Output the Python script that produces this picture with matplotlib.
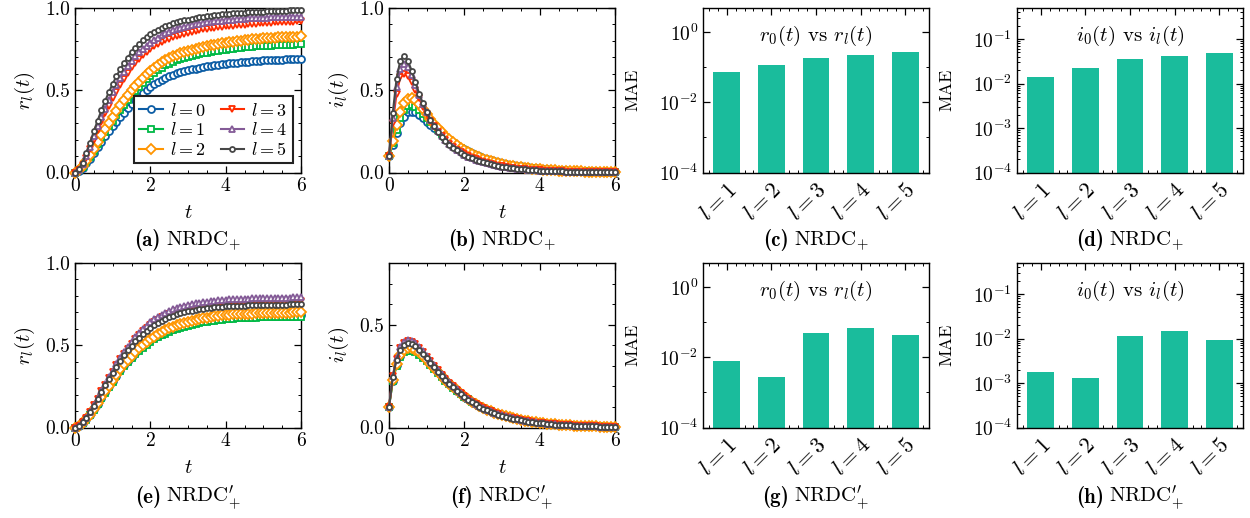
import numpy as np
import matplotlib
matplotlib.use('Agg')
import matplotlib.pyplot as plt
from matplotlib.ticker import MultipleLocator, FixedLocator, LogLocator, NullFormatter

plt.rcParams.update({
    'font.family': 'serif',
    'font.serif': ['cmr10'],
    'mathtext.fontset': 'cm',
    'axes.formatter.use_mathtext': True,
    'axes.unicode_minus': False,
    'font.size': 14,
})

# ---------------- data ----------------
t = np.linspace(0, 6, 61)
line_labels = ['$l=0$', '$l=1$', '$l=2$', '$l=3$', '$l=4$', '$l=5$']
colors = ['#0C5DA5', '#00B945', '#FF9500', '#FF2C00', '#845B97', '#474747']
markers = ['o', 's', 'D', 'v', '^', 'o']

# (a) r_l(t), NRDC+
ra0 = [0, 0.012, 0.030, 0.055, 0.085, 0.118, 0.152, 0.186, 0.219, 0.250, 0.280,
       0.309, 0.337, 0.364, 0.390, 0.415, 0.439, 0.461, 0.482, 0.502, 0.520,
       0.536, 0.551, 0.564, 0.576, 0.586, 0.595, 0.603, 0.610, 0.616, 0.621,
       0.627, 0.632, 0.636, 0.641, 0.645, 0.649, 0.652, 0.655, 0.658, 0.661,
       0.664, 0.666, 0.668, 0.671, 0.673, 0.674, 0.676, 0.678, 0.679, 0.681,
       0.682, 0.683, 0.684, 0.685, 0.686, 0.687, 0.688, 0.688, 0.689, 0.690]
ra1 = [0, 0.014, 0.034, 0.062, 0.096, 0.133, 0.172, 0.210, 0.247, 0.283, 0.316,
       0.349, 0.381, 0.411, 0.441, 0.469, 0.496, 0.521, 0.545, 0.567, 0.588,
       0.606, 0.623, 0.637, 0.651, 0.662, 0.672, 0.681, 0.689, 0.696, 0.702,
       0.709, 0.714, 0.719, 0.724, 0.729, 0.733, 0.737, 0.740, 0.744, 0.747,
       0.750, 0.753, 0.755, 0.758, 0.760, 0.762, 0.764, 0.766, 0.767, 0.770,
       0.771, 0.772, 0.773, 0.774, 0.775, 0.776, 0.777, 0.777, 0.779, 0.780]
ra2 = [0, 0.015, 0.038, 0.068, 0.104, 0.143, 0.184, 0.225, 0.265, 0.303, 0.340,
       0.375, 0.408, 0.440, 0.470, 0.499, 0.526, 0.552, 0.576, 0.598, 0.618,
       0.637, 0.654, 0.669, 0.683, 0.695, 0.706, 0.716, 0.725, 0.733, 0.740,
       0.747, 0.753, 0.759, 0.764, 0.769, 0.774, 0.778, 0.782, 0.786, 0.790,
       0.793, 0.796, 0.799, 0.802, 0.805, 0.807, 0.809, 0.811, 0.813, 0.815,
       0.817, 0.818, 0.820, 0.821, 0.822, 0.823, 0.824, 0.825, 0.826, 0.827]
ra3 = [0, 0.015, 0.045, 0.090, 0.143, 0.200, 0.256, 0.309, 0.359, 0.406, 0.450,
       0.492, 0.532, 0.570, 0.606, 0.640, 0.668, 0.693, 0.715, 0.734, 0.750,
       0.766, 0.780, 0.793, 0.804, 0.814, 0.823, 0.831, 0.838, 0.844, 0.850,
       0.856, 0.861, 0.865, 0.870, 0.874, 0.877, 0.881, 0.884, 0.886, 0.889,
       0.891, 0.893, 0.895, 0.897, 0.899, 0.901, 0.903, 0.905, 0.906, 0.908,
       0.909, 0.910, 0.912, 0.913, 0.914, 0.915, 0.916, 0.917, 0.918, 0.920]
ra4 = [0, 0.017, 0.050, 0.099, 0.158, 0.220, 0.280, 0.336, 0.389, 0.440, 0.488,
       0.532, 0.574, 0.612, 0.647, 0.678, 0.706, 0.731, 0.753, 0.772, 0.790,
       0.806, 0.820, 0.833, 0.845, 0.855, 0.864, 0.872, 0.879, 0.885, 0.890,
       0.895, 0.900, 0.904, 0.908, 0.912, 0.915, 0.918, 0.921, 0.924, 0.926,
       0.928, 0.930, 0.932, 0.934, 0.935, 0.937, 0.938, 0.939, 0.940, 0.941,
       0.942, 0.943, 0.944, 0.945, 0.946, 0.946, 0.947, 0.947, 0.948, 0.948]
ra5 = [0, 0.020, 0.060, 0.117, 0.182, 0.250, 0.315, 0.377, 0.435, 0.489, 0.539,
       0.585, 0.627, 0.665, 0.699, 0.730, 0.757, 0.781, 0.803, 0.822, 0.839,
       0.854, 0.867, 0.879, 0.889, 0.898, 0.906, 0.913, 0.919, 0.925, 0.930,
       0.935, 0.939, 0.943, 0.947, 0.950, 0.953, 0.956, 0.959, 0.961, 0.963,
       0.965, 0.967, 0.969, 0.971, 0.972, 0.974, 0.975, 0.976, 0.977, 0.978,
       0.979, 0.980, 0.981, 0.982, 0.983, 0.984, 0.985, 0.986, 0.987, 0.988]

# (b) i_l(t), NRDC+
ib0 = [0.10, 0.17, 0.24, 0.30, 0.34, 0.365, 0.37, 0.365, 0.35, 0.33, 0.31,
       0.29, 0.27, 0.25, 0.23, 0.21, 0.195, 0.18, 0.165, 0.15, 0.14,
       0.128, 0.117, 0.107, 0.098, 0.09, 0.082, 0.075, 0.069, 0.063, 0.058,
       0.053, 0.048, 0.044, 0.040, 0.037, 0.034, 0.031, 0.028, 0.026, 0.024,
       0.022, 0.020, 0.018, 0.017, 0.015, 0.014, 0.013, 0.012, 0.011, 0.010,
       0.009, 0.0085, 0.0078, 0.0072, 0.0066, 0.006, 0.0055, 0.005, 0.0046, 0.0042]
ib1 = [0.10, 0.18, 0.26, 0.33, 0.38, 0.405, 0.41, 0.40, 0.38, 0.355, 0.33,
       0.305, 0.28, 0.258, 0.236, 0.215, 0.197, 0.18, 0.164, 0.149, 0.136,
       0.124, 0.113, 0.103, 0.094, 0.085, 0.077, 0.07, 0.064, 0.058, 0.053,
       0.048, 0.044, 0.04, 0.036, 0.033, 0.03, 0.027, 0.025, 0.022, 0.02,
       0.018, 0.017, 0.015, 0.014, 0.013, 0.012, 0.011, 0.01, 0.009, 0.008,
       0.0075, 0.0068, 0.0062, 0.0056, 0.0051, 0.0047, 0.0043, 0.0039, 0.0035, 0.0032]
ib2 = [0.10, 0.19, 0.29, 0.37, 0.42, 0.445, 0.45, 0.44, 0.415, 0.385, 0.355,
       0.325, 0.297, 0.27, 0.245, 0.222, 0.202, 0.183, 0.166, 0.15, 0.136,
       0.123, 0.112, 0.101, 0.092, 0.083, 0.075, 0.068, 0.062, 0.056, 0.05,
       0.046, 0.041, 0.037, 0.034, 0.031, 0.028, 0.025, 0.023, 0.021, 0.019,
       0.017, 0.015, 0.014, 0.013, 0.012, 0.011, 0.01, 0.009, 0.008, 0.0072,
       0.0065, 0.0059, 0.0054, 0.0049, 0.0044, 0.004, 0.0036, 0.0033, 0.003, 0.0027]
ib3 = [0.10, 0.30, 0.48, 0.58, 0.60, 0.585, 0.55, 0.50, 0.45, 0.40, 0.355,
       0.315, 0.28, 0.248, 0.22, 0.196, 0.174, 0.155, 0.138, 0.123, 0.11,
       0.099, 0.089, 0.08, 0.072, 0.064, 0.058, 0.052, 0.046, 0.042, 0.037,
       0.033, 0.03, 0.027, 0.024, 0.022, 0.019, 0.017, 0.016, 0.014, 0.013,
       0.011, 0.01, 0.009, 0.0082, 0.0074, 0.0066, 0.006, 0.0054, 0.0048, 0.0043,
       0.0039, 0.0035, 0.0031, 0.0028, 0.0025, 0.0023, 0.0021, 0.0019, 0.0017, 0.0015]
ib4 = [0.10, 0.33, 0.52, 0.63, 0.66, 0.64, 0.59, 0.53, 0.47, 0.415, 0.365,
       0.322, 0.284, 0.25, 0.221, 0.195, 0.173, 0.154, 0.137, 0.122, 0.109,
       0.097, 0.087, 0.078, 0.07, 0.063, 0.056, 0.05, 0.045, 0.04, 0.036,
       0.032, 0.029, 0.026, 0.023, 0.021, 0.019, 0.017, 0.015, 0.013, 0.012,
       0.011, 0.0097, 0.0087, 0.0078, 0.007, 0.0063, 0.0056, 0.005, 0.0045, 0.004,
       0.0036, 0.0032, 0.0029, 0.0026, 0.0023, 0.0021, 0.0019, 0.0017, 0.0015, 0.0013]
ib5 = [0.10, 0.36, 0.57, 0.68, 0.71, 0.68, 0.62, 0.55, 0.48, 0.42, 0.365,
       0.32, 0.28, 0.245, 0.215, 0.19, 0.168, 0.15, 0.134, 0.12, 0.108,
       0.097, 0.087, 0.078, 0.07, 0.063, 0.056, 0.05, 0.045, 0.04, 0.036,
       0.032, 0.029, 0.026, 0.023, 0.021, 0.019, 0.017, 0.015, 0.013, 0.012,
       0.011, 0.0097, 0.0087, 0.0078, 0.007, 0.0063, 0.0056, 0.005, 0.0045, 0.004,
       0.0036, 0.0032, 0.0029, 0.0026, 0.0023, 0.0021, 0.0019, 0.0017, 0.0015, 0.0013]

# (e) r_l(t), NRDC'+
re0 = [0, 0.010, 0.026, 0.049, 0.077, 0.110, 0.145, 0.180, 0.215, 0.250, 0.283,
       0.316, 0.347, 0.377, 0.404, 0.430, 0.453, 0.475, 0.494, 0.512, 0.529,
       0.544, 0.557, 0.570, 0.581, 0.591, 0.600, 0.609, 0.617, 0.624, 0.630,
       0.636, 0.641, 0.646, 0.650, 0.654, 0.658, 0.661, 0.664, 0.666, 0.668,
       0.670, 0.672, 0.674, 0.675, 0.676, 0.677, 0.678, 0.679, 0.680, 0.681,
       0.682, 0.682, 0.683, 0.683, 0.684, 0.684, 0.684, 0.685, 0.685, 0.685]
re1 = [0, 0.010, 0.026, 0.048, 0.076, 0.108, 0.142, 0.177, 0.212, 0.246, 0.279,
       0.311, 0.342, 0.371, 0.398, 0.423, 0.446, 0.467, 0.486, 0.504, 0.520,
       0.535, 0.548, 0.560, 0.571, 0.581, 0.590, 0.598, 0.606, 0.613, 0.619,
       0.625, 0.630, 0.635, 0.639, 0.643, 0.647, 0.650, 0.653, 0.655, 0.657,
       0.659, 0.661, 0.663, 0.664, 0.665, 0.666, 0.667, 0.668, 0.669, 0.670,
       0.671, 0.671, 0.672, 0.672, 0.673, 0.673, 0.673, 0.674, 0.674, 0.674]
re2 = [0, 0.010, 0.027, 0.050, 0.079, 0.112, 0.147, 0.183, 0.219, 0.254, 0.288,
       0.321, 0.353, 0.383, 0.411, 0.437, 0.461, 0.483, 0.503, 0.521, 0.538,
       0.553, 0.567, 0.580, 0.592, 0.602, 0.612, 0.621, 0.629, 0.636, 0.643,
       0.649, 0.655, 0.660, 0.664, 0.668, 0.672, 0.675, 0.678, 0.681, 0.683,
       0.685, 0.687, 0.689, 0.690, 0.691, 0.692, 0.693, 0.694, 0.695, 0.696,
       0.697, 0.697, 0.698, 0.698, 0.699, 0.699, 0.699, 0.700, 0.700, 0.700]
re3 = [0, 0.012, 0.032, 0.060, 0.095, 0.134, 0.176, 0.219, 0.261, 0.301, 0.340,
       0.378, 0.414, 0.448, 0.480, 0.510, 0.537, 0.562, 0.585, 0.606, 0.625,
       0.641, 0.656, 0.669, 0.680, 0.690, 0.699, 0.707, 0.714, 0.720, 0.725,
       0.730, 0.734, 0.738, 0.741, 0.744, 0.747, 0.750, 0.752, 0.754, 0.756,
       0.758, 0.759, 0.760, 0.761, 0.762, 0.763, 0.764, 0.765, 0.766, 0.766,
       0.767, 0.767, 0.768, 0.768, 0.769, 0.769, 0.769, 0.770, 0.770, 0.770]
re4 = [0, 0.012, 0.032, 0.060, 0.095, 0.135, 0.177, 0.221, 0.264, 0.305, 0.345,
       0.384, 0.421, 0.456, 0.489, 0.520, 0.548, 0.574, 0.598, 0.620, 0.640,
       0.657, 0.672, 0.686, 0.698, 0.709, 0.718, 0.726, 0.733, 0.739, 0.745,
       0.750, 0.754, 0.758, 0.762, 0.765, 0.768, 0.771, 0.773, 0.775, 0.777,
       0.779, 0.780, 0.781, 0.782, 0.783, 0.784, 0.785, 0.786, 0.787, 0.787,
       0.788, 0.788, 0.789, 0.789, 0.790, 0.790, 0.790, 0.791, 0.791, 0.791]
re5 = [0, 0.012, 0.032, 0.059, 0.093, 0.132, 0.173, 0.215, 0.256, 0.295, 0.333,
       0.370, 0.405, 0.438, 0.469, 0.497, 0.523, 0.547, 0.569, 0.589, 0.607,
       0.623, 0.637, 0.650, 0.661, 0.671, 0.680, 0.688, 0.695, 0.701, 0.706,
       0.711, 0.715, 0.719, 0.722, 0.725, 0.728, 0.730, 0.732, 0.734, 0.736,
       0.737, 0.738, 0.739, 0.740, 0.741, 0.742, 0.743, 0.744, 0.744, 0.745,
       0.745, 0.746, 0.746, 0.747, 0.747, 0.747, 0.748, 0.748, 0.748, 0.748]

# (f) i_l(t), NRDC'+
if0 = [0.10, 0.228, 0.305, 0.35, 0.37, 0.378, 0.378, 0.372, 0.36, 0.344, 0.326,
       0.307, 0.287, 0.268, 0.248, 0.23, 0.212, 0.195, 0.179, 0.164, 0.15,
       0.137, 0.125, 0.114, 0.104, 0.095, 0.087, 0.079, 0.072, 0.066, 0.06,
       0.054, 0.05, 0.045, 0.041, 0.037, 0.034, 0.031, 0.028, 0.025, 0.023,
       0.021, 0.019, 0.017, 0.016, 0.014, 0.013, 0.012, 0.011, 0.0098, 0.0089,
       0.0081, 0.0074, 0.0067, 0.0061, 0.0055, 0.005, 0.0046, 0.0042, 0.0038, 0.0034]
if1 = [0.10, 0.225, 0.30, 0.345, 0.365, 0.372, 0.372, 0.366, 0.354, 0.338, 0.321,
       0.302, 0.283, 0.264, 0.245, 0.227, 0.21, 0.193, 0.178, 0.163, 0.15,
       0.137, 0.125, 0.114, 0.104, 0.095, 0.087, 0.079, 0.072, 0.066, 0.06,
       0.054, 0.05, 0.045, 0.041, 0.037, 0.034, 0.031, 0.028, 0.025, 0.023,
       0.021, 0.019, 0.017, 0.016, 0.014, 0.013, 0.012, 0.011, 0.0098, 0.0089,
       0.0081, 0.0074, 0.0067, 0.0061, 0.0055, 0.005, 0.0046, 0.0042, 0.0038, 0.0034]
if2 = [0.10, 0.23, 0.31, 0.355, 0.375, 0.385, 0.385, 0.378, 0.365, 0.348, 0.33,
       0.31, 0.29, 0.27, 0.25, 0.231, 0.213, 0.196, 0.18, 0.165, 0.151,
       0.138, 0.126, 0.115, 0.105, 0.095, 0.087, 0.079, 0.072, 0.065, 0.059,
       0.054, 0.049, 0.044, 0.04, 0.037, 0.033, 0.03, 0.027, 0.025, 0.022,
       0.02, 0.018, 0.017, 0.015, 0.014, 0.012, 0.011, 0.01, 0.0092, 0.0083,
       0.0076, 0.0069, 0.0062, 0.0057, 0.0051, 0.0047, 0.0042, 0.0038, 0.0035, 0.0032]
if3 = [0.10, 0.25, 0.335, 0.385, 0.41, 0.42, 0.415, 0.405, 0.385, 0.365, 0.345,
       0.322, 0.3, 0.278, 0.257, 0.237, 0.218, 0.2, 0.183, 0.167, 0.152,
       0.138, 0.126, 0.114, 0.104, 0.094, 0.086, 0.078, 0.071, 0.064, 0.058,
       0.053, 0.048, 0.044, 0.04, 0.036, 0.033, 0.03, 0.027, 0.024, 0.022,
       0.02, 0.018, 0.016, 0.015, 0.013, 0.012, 0.011, 0.01, 0.009, 0.0082,
       0.0075, 0.0068, 0.0061, 0.0056, 0.005, 0.0046, 0.0042, 0.0038, 0.0034, 0.0031]
if4 = [0.10, 0.25, 0.34, 0.39, 0.415, 0.425, 0.42, 0.41, 0.39, 0.37, 0.35,
       0.327, 0.304, 0.282, 0.26, 0.24, 0.22, 0.202, 0.185, 0.169, 0.154,
       0.14, 0.128, 0.116, 0.105, 0.096, 0.087, 0.079, 0.072, 0.065, 0.059,
       0.054, 0.049, 0.044, 0.04, 0.036, 0.033, 0.03, 0.027, 0.025, 0.022,
       0.02, 0.018, 0.017, 0.015, 0.014, 0.012, 0.011, 0.01, 0.009, 0.0085,
       0.0077, 0.007, 0.0063, 0.0057, 0.0052, 0.0047, 0.0043, 0.0039, 0.0035, 0.0032]
if5 = [0.10, 0.245, 0.33, 0.375, 0.40, 0.41, 0.405, 0.395, 0.377, 0.357, 0.337,
       0.315, 0.293, 0.272, 0.251, 0.231, 0.213, 0.195, 0.179, 0.163, 0.149,
       0.135, 0.123, 0.112, 0.102, 0.092, 0.084, 0.076, 0.069, 0.063, 0.057,
       0.052, 0.047, 0.043, 0.039, 0.035, 0.032, 0.029, 0.026, 0.024, 0.022,
       0.02, 0.018, 0.016, 0.014, 0.013, 0.012, 0.011, 0.0098, 0.0089, 0.008,
       0.0073, 0.0066, 0.006, 0.0054, 0.0049, 0.0045, 0.0041, 0.0037, 0.0033, 0.003]

# MAE bars
bar_labels = ['$l=1$', '$l=2$', '$l=3$', '$l=4$', '$l=5$']
mae_r_plus = [0.074, 0.114, 0.19, 0.23, 0.27]
mae_i_plus = [0.0141, 0.0226, 0.036, 0.042, 0.048]
mae_r_prime = [0.0078, 0.0027, 0.050, 0.070, 0.044]
mae_i_prime = [0.0018, 0.00128, 0.0112, 0.0151, 0.0092]
bar_color = '#1ABC9C'

cap_tags = ['(a)', '(b)', '(c)', '(d)', '(e)', '(f)', '(g)', '(h)']
cap_names = [r'NRDC$_{+}$'] * 4 + [r'NRDC$^{\prime}_{+}$'] * 4

# ---------------- figure ----------------
W, H = 1250, 518
fig = plt.figure(figsize=(W / 100, H / 100), dpi=100)

col_left = [75, 389, 703, 1017]
row_top = [8, 263]
aw, ah = 226, 164.5


def make_ax(c, r):
    return fig.add_axes([col_left[c] / W, 1 - (row_top[r] + ah) / H, aw / W, ah / H])


def style(ax):
    ax.tick_params(which='both', direction='in', top=True, right=True, labelsize=14)
    ax.tick_params(which='major', length=5, width=0.9)
    ax.tick_params(which='minor', length=2.5, width=0.7)
    for s in ax.spines.values():
        s.set_linewidth(1.0)


def line_panel(ax, series, ylabel, ytop):
    for k, ys in enumerate(series):
        ms = 3.6 if k == 5 else 5
        ax.plot(t, ys, color=colors[k], marker=markers[k], ms=ms, mfc='white',
                mec=colors[k], mew=1.3, lw=1.5, label=line_labels[k], clip_on=False,
                zorder=3 + k)
    ax.set_xlim(0, 6)
    ax.set_ylim(0, ytop)
    ax.xaxis.set_major_locator(MultipleLocator(2))
    ax.xaxis.set_minor_locator(MultipleLocator(0.5))
    ax.yaxis.set_major_locator(MultipleLocator(0.5))
    ax.yaxis.set_minor_locator(MultipleLocator(0.1))
    ax.set_ylabel(ylabel, fontsize=15, labelpad=6)
    ax.set_xlabel('$t$', fontsize=15, labelpad=6)
    ax.yaxis.set_major_formatter(matplotlib.ticker.FormatStrFormatter('%.1f'))
    style(ax)


def bar_panel(ax, vals, text, ytop, majors, dense_minor):
    x = np.arange(1, 6)
    ax.bar(x, vals, width=0.6, color=bar_color, zorder=2)
    ax.set_yscale('log')
    ax.set_ylim(1e-4, ytop)
    ax.yaxis.set_major_locator(FixedLocator(majors))
    if dense_minor:
        ax.yaxis.set_minor_locator(LogLocator(base=10, subs=np.arange(2, 10), numticks=20))
    else:
        ax.yaxis.set_minor_locator(LogLocator(base=10, subs=(1.0,), numticks=20))
    ax.yaxis.set_minor_formatter(NullFormatter())
    ax.set_xticks(x)
    ax.set_xticklabels(bar_labels, rotation=45, ha='right', rotation_mode='anchor', fontsize=16)
    ax.xaxis.set_minor_locator(MultipleLocator(0.2))
    ax.set_xlim(0.47, 5.53)
    ax.set_ylabel('MAE', fontsize=13, labelpad=13)
    ax.text(0.5, 0.83, text, transform=ax.transAxes, ha='center', va='center', fontsize=15)
    style(ax)
    ax.tick_params(axis='x', which='major', pad=5, labelsize=16)


axA = make_ax(0, 0)
line_panel(axA, [ra0, ra1, ra2, ra3, ra4, ra5], '$r_l(t)$', 1.0)
leg = axA.legend(ncol=2, loc='lower right', bbox_to_anchor=(0.965, 0.055), borderaxespad=0,
                 fontsize=13, handlelength=1.3, handletextpad=0.4, columnspacing=0.8,
                 labelspacing=0.15, borderpad=0.3, fancybox=False, framealpha=1,
                 edgecolor='#222222')
leg.get_frame().set_linewidth(1.5)

axB = make_ax(1, 0)
line_panel(axB, [ib0, ib1, ib2, ib3, ib4, ib5], '$i_l(t)$', 1.0)

axC = make_ax(2, 0)
bar_panel(axC, mae_r_plus, r'$r_0(t)$ vs $r_l(t)$', 5.0, [1e-4, 1e-2, 1e0], False)
axD = make_ax(3, 0)
bar_panel(axD, mae_i_plus, r'$i_0(t)$ vs $i_l(t)$', 0.5, [1e-4, 1e-3, 1e-2, 1e-1], True)

axE = make_ax(0, 1)
line_panel(axE, [re0, re1, re2, re3, re4, re5], '$r_l(t)$', 1.0)
axF = make_ax(1, 1)
line_panel(axF, [if0, if1, if2, if3, if4, if5], '$i_l(t)$', 0.8)

axG = make_ax(2, 1)
bar_panel(axG, mae_r_prime, r'$r_0(t)$ vs $r_l(t)$', 5.0, [1e-4, 1e-2, 1e0], False)
axH = make_ax(3, 1)
bar_panel(axH, mae_i_prime, r'$i_0(t)$ vs $i_l(t)$', 0.5, [1e-4, 1e-3, 1e-2, 1e-1], True)

# captions: bold tag + roman name, centred under each column
renderer = fig.canvas.get_renderer()
cap_base = [246, 503]
for i in range(8):
    c, r = i % 4, i // 4
    yb = 1 - cap_base[r] / H
    ta = fig.text(0, yb, cap_tags[i], fontfamily='cmb10', fontsize=15, va='baseline')
    tb = fig.text(0, yb, cap_names[i], fontsize=15, va='baseline')
    wa = ta.get_window_extent(renderer).width
    wb = tb.get_window_extent(renderer).width
    gap = 5
    x0 = col_left[c] + aw / 2 - (wa + gap + wb) / 2
    ta.set_x(x0 / W)
    tb.set_x((x0 + wa + gap) / W)

fig.savefig('out.png', dpi=100)
